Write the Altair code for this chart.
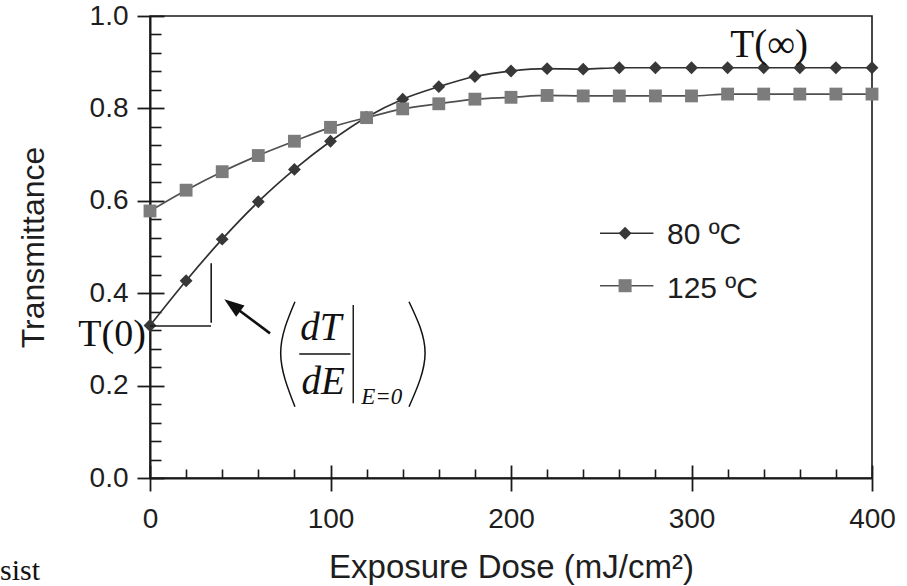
import altair as alt
import pandas as pd

# ---------------- data ----------------
dose = list(range(0, 401, 20))
t_80 = [0.330, 0.427, 0.517, 0.598, 0.668, 0.729, 0.781, 0.820, 0.847, 0.869, 0.881,
        0.886, 0.885, 0.888, 0.888, 0.888, 0.888, 0.888, 0.888, 0.888, 0.888]
t_125 = [0.578, 0.623, 0.663, 0.698, 0.729, 0.759, 0.780, 0.799, 0.810, 0.820, 0.824,
         0.828, 0.827, 0.827, 0.827, 0.827, 0.831, 0.831, 0.831, 0.831, 0.831]
series_names = ["80 ºC", "125 ºC"]

x_major = [0, 100, 200, 300, 400]
x_minor = [v for v in range(0, 401, 20) if v % 100]
y_major = [0.0, 0.2, 0.4, 0.6, 0.8, 1.0]
y_minor = [round(i * 0.04, 2) for i in range(26) if i % 5]

df = pd.DataFrame({
    "dose": dose * 2,
    "T": t_80 + t_125,
    "series": [series_names[0]] * len(dose) + [series_names[1]] * len(dose),
})

# annotation tables
tri_x = [0.0, 33.9]
tri_x2 = [33.8, 33.9]
tri_y = [0.329, 0.336]
tri_y2 = [0.329, 0.465]

arrow_tail = (66.5, 0.313)
arrow_head = (45.6, 0.374)

serif_text = ["T(∞)", "T(0)", "sist"]
serif_x = [343.0, -21.0, -72.0]
serif_y = [0.912, 0.2857, -0.2208]
serif_size = [39, 38, 30]

ital_text = ["dT", "dE", "E=0"]
ital_x = [94.6, 96.0, 128.4]
ital_y = [0.2987, 0.1818, 0.1595]
ital_size = [39, 39, 23]

bar_x = [82.7, 112.6]
bar_x2 = [111.1, 112.6]
bar_y = [0.2684, 0.3745]
bar_y2 = [0.2684, 0.1616]

paren_id = ["L", "L", "L", "R", "R", "R"]
paren_ord = [0, 1, 2, 0, 1, 2]
paren_x = [80.3, 72.4, 80.3, 143.5, 152.4, 143.5]
paren_y = [0.3816, 0.2706, 0.1543, 0.3816, 0.2706, 0.1543]

leg_y_sym = [0.5296, 0.4162]
leg_y_txt = [0.5058, 0.389]
leg_x_left = 249.3
leg_x_right = 278.9
leg_x_sym = 263.2
leg_x_txt = 286.4

# ---------------- scales / styles ----------------
xs = alt.Scale(domain=[0, 400], nice=False, zero=False)
ys = alt.Scale(domain=[0, 1], nice=False, zero=False)
stroke_scale = alt.Scale(domain=series_names, range=["#303030", "#505050"])
fill_scale = alt.Scale(domain=series_names, range=["#383838", "#7c7c7c"])
shape_scale = alt.Scale(domain=series_names, range=["diamond", "square"])

SANS = "Liberation Sans"
SERIF = "Liberation Serif"
INK = "#1a1a1a"

x_main = alt.Axis(values=x_major, format="d", title="Exposure Dose (mJ/cm²)",
                  tickSize=13, tickWidth=1.8, labelPadding=14, labelFontSize=28,
                  labelFlush=False, labelOverlap=False,
                  titleFontSize=33, titleY=99, titleBaseline="alphabetic",
                  domainWidth=2)
y_main = alt.Axis(values=y_major, format=".1f", title="Transmittance",
                  tickSize=13, tickWidth=1.8, labelPadding=9, labelFontSize=28,
                  labelFlush=False, labelOverlap=False,
                  titleFontSize=32, titleX=-107, titleBaseline="alphabetic",
                  domainWidth=2)
x_in_major = alt.Axis(orient="top", offset=-462, values=x_major, labels=False,
                      domain=False, tickSize=13, tickWidth=1.8, title="")
x_in_minor = alt.Axis(orient="top", offset=-462, values=x_minor, labels=False,
                      domain=False, tickSize=9, tickWidth=1.6, title="")
y_in_major = alt.Axis(orient="right", offset=-722, values=y_major, labels=False,
                      domain=False, tickSize=14, tickWidth=1.8, title="")
y_in_minor = alt.Axis(orient="right", offset=-722, values=y_minor, labels=False,
                      domain=False, tickSize=11, tickWidth=1.6, title="")

# ---------------- layers ----------------
lines = alt.Chart(df).mark_line(interpolate="monotone", strokeWidth=1.7).encode(
    x=alt.X("dose:Q", scale=xs, axis=x_main),
    y=alt.Y("T:Q", scale=ys, axis=y_main),
    stroke=alt.Stroke("series:N", scale=stroke_scale, legend=None),
)

points = alt.Chart(df).mark_point(filled=True, opacity=1, size=165).encode(
    x=alt.X("dose:Q", scale=xs, axis=x_in_major),
    y=alt.Y("T:Q", scale=ys, axis=y_in_major),
    fill=alt.Fill("series:N", scale=fill_scale, legend=None),
    shape=alt.Shape("series:N", scale=shape_scale, legend=None),
)

tri_df = pd.DataFrame({"x": tri_x, "x2": tri_x2, "y": tri_y, "y2": tri_y2})
tri = alt.Chart(tri_df).mark_rule(color=INK, strokeWidth=1.6).encode(
    x=alt.X("x:Q", scale=xs, axis=x_in_minor), x2="x2:Q",
    y=alt.Y("y:Q", scale=ys, axis=y_in_minor), y2="y2:Q",
)

arrow_df = pd.DataFrame({"x": [arrow_tail[0]], "y": [arrow_tail[1]],
                         "x2": [arrow_head[0]], "y2": [arrow_head[1]]})
arrow_line = alt.Chart(arrow_df).mark_rule(color="#111", strokeWidth=2.6).encode(
    x=alt.X("x:Q", scale=xs, axis=None), x2="x2:Q",
    y=alt.Y("y:Q", scale=ys, axis=None), y2="y2:Q",
)
arrow_tip = alt.Chart(arrow_df).mark_point(
    shape="M0,-1L0.7,1L-0.7,1Z", filled=True, color="#111", opacity=1,
    size=400, angle=306.7,
).encode(
    x=alt.X("x2:Q", scale=xs, axis=None),
    y=alt.Y("y2:Q", scale=ys, axis=None),
)

serif_df = pd.DataFrame({"t": serif_text, "x": serif_x, "y": serif_y, "s": serif_size})
serif_layer = alt.Chart(serif_df).mark_text(font=SERIF, color="#111", align="center",
                                            baseline="alphabetic").encode(
    x=alt.X("x:Q", scale=xs, axis=None),
    y=alt.Y("y:Q", scale=ys, axis=None),
    text="t:N",
    size=alt.Size("s:Q", scale=None, legend=None),
)

ital_df = pd.DataFrame({"t": ital_text, "x": ital_x, "y": ital_y, "s": ital_size})
ital_layer = alt.Chart(ital_df).mark_text(font=SERIF, fontStyle="italic", color="#111",
                                          align="center", baseline="alphabetic").encode(
    x=alt.X("x:Q", scale=xs, axis=None),
    y=alt.Y("y:Q", scale=ys, axis=None),
    text="t:N",
    size=alt.Size("s:Q", scale=None, legend=None),
)

bar_df = pd.DataFrame({"x": bar_x, "x2": bar_x2, "y": bar_y, "y2": bar_y2})
bars = alt.Chart(bar_df).mark_rule(color="#111", strokeWidth=1.4).encode(
    x=alt.X("x:Q", scale=xs, axis=None), x2="x2:Q",
    y=alt.Y("y:Q", scale=ys, axis=None), y2="y2:Q",
)

paren_df = pd.DataFrame({"id": paren_id, "o": paren_ord, "x": paren_x, "y": paren_y})
parens = alt.Chart(paren_df).mark_line(interpolate="natural", color="#111",
                                       strokeWidth=1.5).encode(
    x=alt.X("x:Q", scale=xs, axis=None),
    y=alt.Y("y:Q", scale=ys, axis=None),
    detail="id:N",
    order="o:Q",
)

leg_df = pd.DataFrame({
    "series": series_names,
    "ys": leg_y_sym,
    "yt": leg_y_txt,
    "xl": [leg_x_left] * 2,
    "xr": [leg_x_right] * 2,
    "xs": [leg_x_sym] * 2,
    "xt": [leg_x_txt] * 2,
})
leg_line = alt.Chart(leg_df).mark_rule(strokeWidth=1.6).encode(
    x=alt.X("xl:Q", scale=xs, axis=None), x2="xr:Q",
    y=alt.Y("ys:Q", scale=ys, axis=None),
    stroke=alt.Stroke("series:N", scale=stroke_scale, legend=None),
)
leg_sym = alt.Chart(leg_df).mark_point(filled=True, opacity=1, size=170).encode(
    x=alt.X("xs:Q", scale=xs, axis=None),
    y=alt.Y("ys:Q", scale=ys, axis=None),
    fill=alt.Fill("series:N", scale=fill_scale, legend=None),
    shape=alt.Shape("series:N", scale=shape_scale, legend=None),
)
leg_txt = alt.Chart(leg_df).mark_text(font=SANS, fontSize=30, color="#1e1e1e", align="left",
                                      baseline="alphabetic").encode(
    x=alt.X("xt:Q", scale=xs, axis=None),
    y=alt.Y("yt:Q", scale=ys, axis=None),
    text="series:N",
)

chart = alt.layer(
    lines, points, tri, arrow_line, arrow_tip, serif_layer, ital_layer, bars, parens,
    leg_line, leg_sym, leg_txt,
).resolve_axis(x="independent", y="independent").properties(
    width=722, height=462,
    autosize=alt.AutoSizeParams(type="none"),
    padding={"left": 150, "top": 16, "right": 35, "bottom": 108},
    background="white",
).configure_view(
    stroke="#1a1a1a", strokeWidth=1.6,
).configure_axis(
    labelFont=SANS, titleFont=SANS, labelColor="#1e1e1e", titleColor="#1e1e1e",
    tickColor="#1a1a1a", domainColor="#1a1a1a", grid=False, titleFontWeight="normal",
)

chart.save("out.html", embed_options={"renderer": "svg", "actions": False})
